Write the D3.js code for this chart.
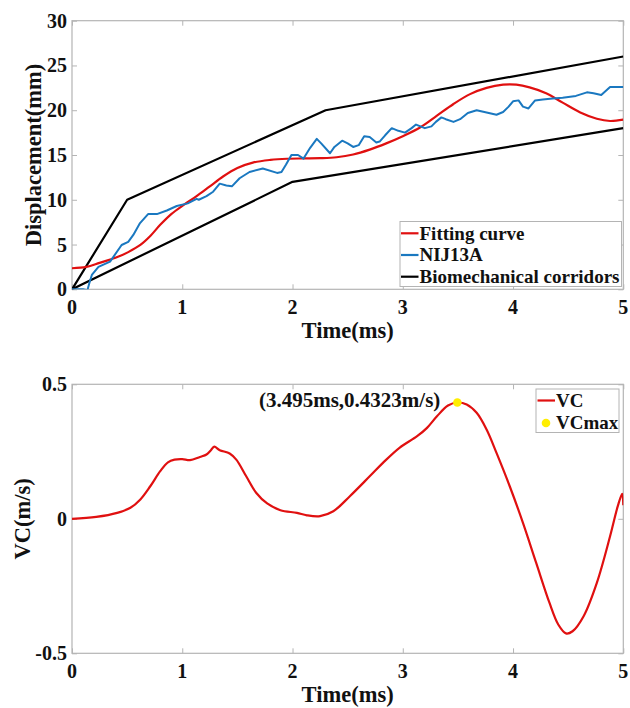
<!DOCTYPE html>
<html>
<head>
<meta charset="utf-8">
<script src="https://cdn.jsdelivr.net/npm/d3@7"></script>
<style>
  html, body { margin: 0; padding: 0; background: #fff; }
  svg { display: block; }
  text { font-family: "Liberation Serif", "Times New Roman", serif; font-weight: bold; fill: #111; }
</style>
</head>
<body>
<svg id="chart" width="630" height="708"></svg>
<script>
// ---- Displacement panel ----
const xTicks = [0, 1, 2, 3, 4, 5];
const dispTicks = [0, 5, 10, 15, 20, 25, 30];

// Fitted displacement curve
const fitT = [0, 0.13, 0.25, 0.4, 0.51, 0.62, 0.71, 0.8, 0.9, 1.01, 1.13, 1.25, 1.37, 1.5, 1.64, 1.8, 1.95, 2.1, 2.25, 2.4, 2.55, 2.7, 2.85, 3.0, 3.16, 3.31, 3.46, 3.61, 3.76, 3.91, 4.03, 4.15, 4.3, 4.45, 4.61, 4.76, 4.88, 5.0];
const fitY = [2.35, 2.5, 2.95, 3.55, 4.15, 4.95, 5.95, 7.2, 8.4, 9.4, 10.4, 11.5, 12.6, 13.55, 14.15, 14.45, 14.58, 14.62, 14.65, 14.75, 15.05, 15.6, 16.3, 17.1, 18.1, 19.4, 20.7, 21.8, 22.5, 22.85, 22.85, 22.55, 21.9, 20.85, 19.75, 19.05, 18.8, 18.95];

// NIJ13A measured displacement
const nijT = [0, 0.1, 0.14, 0.157, 0.18, 0.24, 0.345, 0.374, 0.45, 0.51, 0.556, 0.617, 0.69, 0.77, 0.86, 0.95, 1.05, 1.13, 1.15, 1.22, 1.28, 1.34, 1.40, 1.45, 1.52, 1.61, 1.73, 1.86, 1.90, 1.94, 1.99, 2.05, 2.10, 2.16, 2.22, 2.26, 2.34, 2.38, 2.45, 2.50, 2.55, 2.60, 2.65, 2.70, 2.76, 2.79, 2.84, 2.90, 2.96, 3.02, 3.08, 3.12, 3.20, 3.26, 3.30, 3.35, 3.39, 3.46, 3.52, 3.59, 3.67, 3.74, 3.85, 3.91, 3.96, 4.0, 4.05, 4.09, 4.14, 4.20, 4.27, 4.36, 4.45, 4.57, 4.67, 4.73, 4.80, 4.88, 4.94, 5.0];
const nijY = [0, 0, -0.1, 0.67, 1.6, 2.5, 3.1, 3.6, 4.95, 5.3, 6.07, 7.4, 8.4, 8.4, 8.8, 9.3, 9.6, 10.1, 10.0, 10.4, 10.9, 11.8, 11.6, 11.5, 12.4, 13.1, 13.5, 13.0, 13.1, 13.9, 15.0, 15.0, 14.6, 15.8, 16.8, 16.3, 15.2, 15.9, 16.6, 16.3, 15.9, 16.1, 17.1, 17.0, 16.4, 16.5, 17.2, 18.0, 17.7, 17.5, 18.0, 18.4, 18.0, 18.2, 18.7, 19.2, 19.0, 18.7, 19.0, 19.7, 20.0, 19.8, 19.5, 19.8, 20.4, 21.0, 21.1, 20.4, 20.2, 21.1, 21.2, 21.3, 21.4, 21.6, 22.0, 21.9, 21.7, 22.6, 22.6, 22.6];

// Biomechanical corridor bounds
const upperT = [0, 0.5, 2.3, 5];
const upperY = [0, 10, 20, 26];
const lowerT = [0, 2, 5];
const lowerY = [0, 12, 18];

const dispLegend = ["Fitting curve", "NIJ13A", "Biomechanical corridors"];

// ---- VC panel ----
const vcTicks = [-0.5, 0, 0.5];
const vcTickLabels = ["-0.5", "0", "0.5"];
const vcT = [0, 0.22, 0.41, 0.53, 0.62, 0.71, 0.80, 0.87, 0.93, 1.0, 1.07, 1.16, 1.22, 1.26, 1.29, 1.34, 1.43, 1.49, 1.58, 1.67, 1.77, 1.89, 2.04, 2.13, 2.25, 2.37, 2.52, 2.70, 2.82, 2.97, 3.13, 3.22, 3.31, 3.41, 3.495, 3.58, 3.67, 3.76, 3.85, 3.97, 4.09, 4.21, 4.33, 4.41, 4.48, 4.54, 4.64, 4.76, 4.88, 4.95, 4.99, 5.0];
const vcY = [0, 0.007, 0.022, 0.041, 0.072, 0.121, 0.177, 0.21, 0.22, 0.222, 0.218, 0.23, 0.239, 0.255, 0.268, 0.255, 0.243, 0.22, 0.158, 0.097, 0.057, 0.032, 0.022, 0.013, 0.01, 0.028, 0.084, 0.158, 0.208, 0.264, 0.307, 0.338, 0.381, 0.421, 0.4323, 0.425, 0.394, 0.332, 0.245, 0.121, -0.015, -0.164, -0.312, -0.393, -0.426, -0.418, -0.362, -0.238, -0.065, 0.047, 0.093, 0.05];
const vcMaxT = 3.495;
const vcMaxV = 0.4323;
const vcLegend = ["VC", "VCmax"];

const RED = "#e01010", BLUE = "#1a78c0", BLACK = "#000", YELLOW = "#ffee00";
const AXIS = "#b4b4b4";

const svg = d3.select("#chart");
const zip = (a, b) => a.map((v, i) => [v, b[i]]);

function panel(opts) {
  const { top, bottom, left, right, yDomain, yTicks, yFmt, id } = opts;
  const x = d3.scaleLinear().domain([0, 5]).range([left, right]);
  const y = d3.scaleLinear().domain(yDomain).range([bottom, top]);
  const g = svg.append("g");

  svg.append("clipPath").attr("id", id)
    .append("rect").attr("x", left).attr("y", top)
    .attr("width", right - left).attr("height", bottom - top);

  // inner ticks on all four sides
  const tl = 5;
  const axB = d3.axisTop(x).tickValues(xTicks).tickSize(tl).tickFormat("");
  const axT = d3.axisBottom(x).tickValues(xTicks).tickSize(tl).tickFormat("");
  const axL = d3.axisRight(y).tickValues(yTicks).tickSize(tl).tickFormat("");
  const axR = d3.axisLeft(y).tickValues(yTicks).tickSize(tl).tickFormat("");
  [[axB, `translate(0,${bottom})`], [axT, `translate(0,${top})`],
   [axL, `translate(${left},0)`], [axR, `translate(${right},0)`]].forEach(([ax, tr]) => {
    const a = g.append("g").attr("transform", tr).call(ax);
    a.select(".domain").remove();
    a.selectAll("line").attr("stroke", AXIS).attr("stroke-width", 1);
  });
  g.append("rect").attr("x", left).attr("y", top)
    .attr("width", right - left).attr("height", bottom - top)
    .attr("fill", "none").attr("stroke", AXIS).attr("stroke-width", 1.2);

  // tick labels
  g.selectAll(".xl").data(xTicks).join("text")
    .attr("x", d => x(d)).attr("y", bottom + 25)
    .attr("text-anchor", "middle").style("font-size", "20px").text(d => d);
  g.selectAll(".yl").data(yTicks).join("text")
    .attr("x", left - 5).attr("y", d => y(d)).attr("dy", "0.35em")
    .attr("text-anchor", "end").style("font-size", "20px").text((d, i) => yFmt(d, i));

  // x label
  g.append("text").attr("x", (left + right) / 2).attr("y", bottom + 49)
    .attr("text-anchor", "middle").style("font-size", "22.5px").text("Time(ms)");

  const plot = svg.append("g").attr("clip-path", `url(#${id})`);
  return { x, y, g, plot };
}

// ---------- top panel ----------
const P1 = panel({ top: 20.7, bottom: 289.3, left: 72, right: 623.3, yDomain: [0, 30],
  yTicks: dispTicks, yFmt: d => d, id: "clipA" });

P1.g.append("text")
  .attr("transform", `translate(33,${(20.7 + 289.3) / 2}) rotate(-90)`)
  .attr("text-anchor", "middle").attr("dy", "0.35em")
  .style("font-size", "22.5px").text("Displacement(mm)");

const lin1 = d3.line().x(d => P1.x(d[0])).y(d => P1.y(d[1]));
const smooth1 = d3.line().x(d => P1.x(d[0])).y(d => P1.y(d[1])).curve(d3.curveCatmullRom.alpha(0.5));

P1.plot.append("path").datum(zip(upperT, upperY)).attr("d", lin1)
  .attr("fill", "none").attr("stroke", BLACK).attr("stroke-width", 2.2).attr("stroke-linejoin", "round");
P1.plot.append("path").datum(zip(lowerT, lowerY)).attr("d", lin1)
  .attr("fill", "none").attr("stroke", BLACK).attr("stroke-width", 2.2).attr("stroke-linejoin", "round");
P1.plot.append("path").datum(zip(fitT, fitY)).attr("d", smooth1)
  .attr("fill", "none").attr("stroke", RED).attr("stroke-width", 2.2);
P1.plot.append("path").datum(zip(nijT, nijY)).attr("d", lin1)
  .attr("fill", "none").attr("stroke", BLUE).attr("stroke-width", 2).attr("stroke-linejoin", "round");

// legend (top)
{
  const lg = svg.append("g");
  lg.append("rect").attr("x", 400).attr("y", 221.5).attr("width", 221.5).attr("height", 65)
    .attr("fill", "#fff").attr("stroke", AXIS).attr("stroke-width", 1);
  const cols = [RED, BLUE, BLACK];
  dispLegend.forEach((name, i) => {
    const cy = 233.3 + i * 21.7;
    lg.append("line").attr("x1", 401).attr("x2", 418.5).attr("y1", cy).attr("y2", cy)
      .attr("stroke", cols[i]).attr("stroke-width", 2.2);
    lg.append("text").attr("x", 419.5).attr("y", cy).attr("dy", "0.33em")
      .style("font-size", "19px").text(name);
  });
}

// ---------- bottom panel ----------
const P2 = panel({ top: 384.3, bottom: 653.3, left: 72, right: 623.3, yDomain: [-0.5, 0.5],
  yTicks: vcTicks, yFmt: (d, i) => vcTickLabels[i], id: "clipB" });

P2.g.append("text")
  .attr("transform", `translate(22,${(384.3 + 653.3) / 2}) rotate(-90)`)
  .attr("text-anchor", "middle").attr("dy", "0.35em")
  .style("font-size", "22.5px").text("VC(m/s)");

const smooth2 = d3.line().x(d => P2.x(d[0])).y(d => P2.y(d[1])).curve(d3.curveCatmullRom.alpha(0.5));
P2.plot.append("path").datum(zip(vcT, vcY)).attr("d", smooth2)
  .attr("fill", "none").attr("stroke", RED).attr("stroke-width", 2.2);

svg.append("circle").attr("cx", P2.x(vcMaxT)).attr("cy", P2.y(vcMaxV)).attr("r", 4.3)
  .attr("fill", YELLOW);
svg.append("text").attr("x", P2.x(vcMaxT) - 17).attr("y", 406.5)
  .attr("text-anchor", "end").style("font-size", "21px")
  .text(`(${vcMaxT}ms,${vcMaxV}m/s)`);

// legend (bottom)
{
  const lg = svg.append("g");
  lg.append("rect").attr("x", 536).attr("y", 389).attr("width", 83).attr("height", 43.5)
    .attr("fill", "#fff").attr("stroke", AXIS).attr("stroke-width", 1);
  const r1 = 400.5, r2 = 423;
  lg.append("line").attr("x1", 537.5).attr("x2", 555).attr("y1", r1).attr("y2", r1)
    .attr("stroke", RED).attr("stroke-width", 2.2);
  lg.append("circle").attr("cx", 546).attr("cy", r2).attr("r", 4.3).attr("fill", YELLOW);
  vcLegend.forEach((name, i) => {
    lg.append("text").attr("x", 556).attr("y", i ? r2 : r1).attr("dy", "0.33em")
      .style("font-size", "19px").text(name);
  });
}
</script>
</body>
</html>
